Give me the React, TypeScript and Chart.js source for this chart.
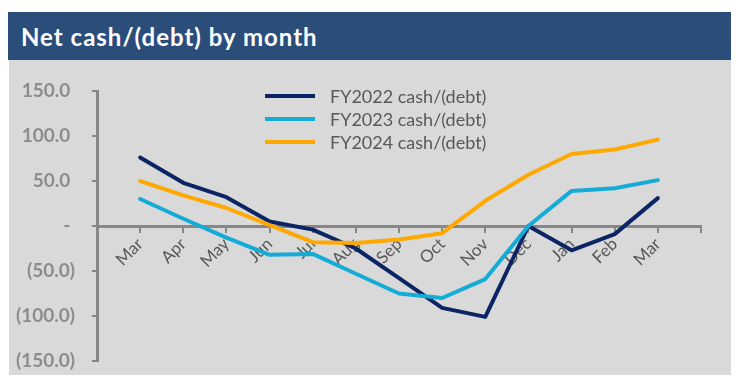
import React, { useEffect, useRef } from 'react';
import { Chart, registerables } from 'chart.js';

Chart.register(...registerables);

const TITLE = 'Net cash/(debt) by month';
const MONTHS = ['Mar', 'Apr', 'May', 'Jun', 'Jul', 'Aug', 'Sep', 'Oct', 'Nov', 'Dec', 'Jan', 'Feb', 'Mar'];
const SERIES_NAMES = ['FY2022 cash/(debt)', 'FY2023 cash/(debt)', 'FY2024 cash/(debt)'];
const FY2022 = [76, 48, 32, 5, -4, -25, -58, -91, -101, 0, -27, -9, 31];
const FY2023 = [30, 8, -13, -32, -31, -53, -75, -80, -59, 0, 39, 42, 51];
const FY2024 = [50, 34, 20, 1, -18, -19, -15, -8, 28, 57, 80, 85, 96];
const Y_MIN = -150;
const Y_MAX = 150;
const Y_STEP = 50;

const COLORS = ['#0b2463', '#14acd6', '#ffa800'];
const AXIS_COLOR = '#878787';
const FONT = 'Lato, "Open Sans", sans-serif';

const formatTick = (v: number) => {
  if (v === 0) return '- ';
  if (v < 0) return '(' + Math.abs(v).toFixed(1) + ')';
  return v.toFixed(1) + ' ';
};

const legendPlugin = {
  id: 'sideLegend',
  afterDraw(chart: any) {
    const { ctx, chartArea } = chart;
    ctx.save();
    chart.data.datasets.forEach((ds: any, i: number) => {
      const y = chartArea.top + 5 + i * 23;
      ctx.strokeStyle = ds.borderColor;
      ctx.lineWidth = 4;
      ctx.lineCap = 'butt';
      ctx.beginPath();
      ctx.moveTo(chartArea.left + 168, y);
      ctx.lineTo(chartArea.left + 218, y);
      ctx.stroke();
      ctx.fillStyle = '#595959';
      ctx.font = '18px ' + FONT;
      ctx.textBaseline = 'middle';
      ctx.textAlign = 'left';
      ctx.fillText(ds.label, chartArea.left + 233, y + 1);
    });
    ctx.restore();
  },
};

export default function App() {
  const canvasRef = useRef<HTMLCanvasElement | null>(null);

  useEffect(() => {
    if (!canvasRef.current) return;
    const labels = ['', ...MONTHS, ''];
    const pad = (arr: number[]) => [null, ...arr, null];
    const series = [FY2022, FY2023, FY2024];
    const chart = new Chart(canvasRef.current, {
      type: 'line',
      data: {
        labels,
        datasets: series.map((s, i) => ({
          label: SERIES_NAMES[i],
          data: pad(s),
          borderColor: COLORS[i],
          backgroundColor: COLORS[i],
          borderWidth: 4,
          pointRadius: 0,
          tension: 0,
          fill: false,
          borderCapStyle: 'round',
          borderJoinStyle: 'round',
          order: series.length - i,
        })),
      },
      options: {
        responsive: false,
        animation: false,
        devicePixelRatio: 1,
        layout: { padding: { left: 0, top: 31, right: 30, bottom: 14 } },
        plugins: {
          legend: { display: false },
          tooltip: { enabled: false },
          title: { display: false },
        },
        scales: {
          x: {
            type: 'category',
            position: { y: 0 } as any,
            offset: false,
            afterFit: (scale: any) => {
              scale.height = 0;
              scale.paddingLeft = 0;
              scale.paddingRight = 0;
            },
            grid: {
              drawOnChartArea: false,
              drawTicks: true,
              tickLength: 5,
              color: AXIS_COLOR,
              lineWidth: 2,
            },
            border: { display: true, color: AXIS_COLOR, width: 3 },
            ticks: {
              autoSkip: false,
              minRotation: 45,
              maxRotation: 45,
              padding: 3,
              color: '#595959',
              font: { family: FONT, size: 17 },
            },
          },
          y: {
            min: Y_MIN,
            max: Y_MAX,
            afterFit: (scale: any) => {
              scale.width = 88;
              scale.paddingTop = 0;
              scale.paddingBottom = 0;
            },
            grid: {
              drawOnChartArea: false,
              drawTicks: true,
              tickLength: 5,
              color: AXIS_COLOR,
              lineWidth: 2,
            },
            border: { display: true, color: AXIS_COLOR, width: 3 },
            ticks: {
              stepSize: Y_STEP,
              padding: 17,
              color: '#8c8c8c',
              font: { family: FONT, size: 19, weight: 'bold' },
              callback: (v: any) => formatTick(Number(v)),
            },
          },
        },
      },
      plugins: [legendPlugin],
    } as any);
    return () => chart.destroy();
  }, []);

  return (
    <div
      style={{
        position: 'fixed',
        left: 0,
        top: 0,
        width: 736,
        height: 380,
        background: '#ffffff',
        overflow: 'hidden',
      }}
    >
      <div
        style={{
          position: 'absolute',
          left: 8,
          top: 12,
          width: 723,
          height: 48,
          background: '#2b4d7a',
          color: '#ffffff',
          fontFamily: FONT,
          fontWeight: 'bold',
          fontSize: 24,
          letterSpacing: 1,
          lineHeight: '50px',
          paddingLeft: 13,
          boxSizing: 'border-box',
          whiteSpace: 'nowrap',
          overflow: 'hidden',
        }}
      >
        {TITLE}
      </div>
      <div
        style={{
          position: 'absolute',
          left: 9,
          top: 60,
          width: 722,
          height: 315,
          background: '#d9d9d9',
        }}
      >
        <canvas
          ref={canvasRef}
          width={722}
          height={315}
          style={{ display: 'block', width: 722, height: 315 }}
        />
      </div>
    </div>
  );
}
